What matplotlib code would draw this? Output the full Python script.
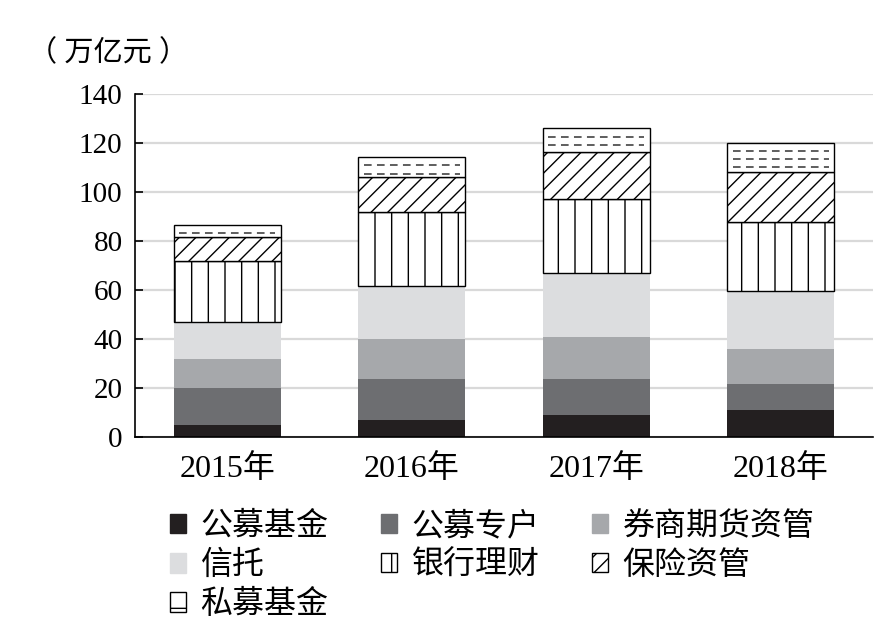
import matplotlib
matplotlib.use("Agg")
import matplotlib.pyplot as plt
import numpy as np
from matplotlib.patches import Patch

plt.rcParams["font.family"] = ["Liberation Serif", "Noto Sans CJK SC"]
plt.rcParams["hatch.linewidth"] = 1.0

years = ["2015年", "2016年", "2017年", "2018年"]
series_names = ["公募基金", "公募专户", "券商期货资管", "信托", "银行理财", "保险资管", "私募基金"]

# segment sizes, 万亿元
gongmu_jijin = [4.8, 6.8, 8.8, 10.9]
gongmu_zhuanhu = [15.2, 16.7, 14.7, 10.6]
quanshang_qihuo = [11.8, 16.5, 17.2, 14.3]
xintuo = [15.0, 21.8, 26.2, 23.9]
yinhang_licai = [25.2, 30.2, 30.1, 28.2]
baoxian_ziguan = [9.4, 13.9, 19.1, 20.4]
simu_jijin = [5.0, 8.2, 9.8, 11.8]

y_ticks = [0, 20, 40, 60, 80, 100, 120, 140]

series = [gongmu_jijin, gongmu_zhuanhu, quanshang_qihuo, xintuo,
          yinhang_licai, baoxian_ziguan, simu_jijin]
styles = [
    dict(color="#231f20"),
    dict(color="#6d6e71"),
    dict(color="#a6a8ab"),
    dict(color="#dcdddf"),
    dict(facecolor="white", edgecolor="black", hatch="|", linewidth=1.0),
    dict(facecolor="white", edgecolor="black", hatch="//", linewidth=1.0),
    dict(facecolor="white", edgecolor="black", linewidth=1.0),
]

fig = plt.figure(figsize=(8.87, 6.26), dpi=100)
ax = fig.add_axes([0.1522, 0.302, 0.832, 0.548])

x = np.arange(len(years))
width = 0.58
bottom = np.zeros(len(years))
for vals, st in zip(series, styles):
    ax.bar(x, vals, width, bottom=bottom, **st)
    bottom = bottom + np.array(vals)

# dashed fill for the top (私募基金) segment
base = bottom - np.array(simu_jijin)
for xi, b, h in zip(x, base, simu_jijin):
    k = 1
    while 3.3 * k < h - 0.8:
        ax.plot([xi - width / 2 + 0.03, xi + width / 2 - 0.03], [b + h - 3.3 * k] * 2,
                color="#333333", lw=1.1, dashes=(5, 3.5))
        k += 1

ax.set_xlim(-0.5, 3.5)
ax.set_ylim(0, 140)
ax.set_yticks(y_ticks)
ax.set_xticks(x)
ax.set_xticklabels(years)
ax.yaxis.grid(True, color="#d9d9d9", lw=1.6)
ax.set_axisbelow(True)
for s in ["top", "right"]:
    ax.spines[s].set_visible(False)
ax.spines["left"].set_linewidth(1.2)
ax.spines["bottom"].set_linewidth(1.2)
ax.tick_params(axis="y", direction="in", length=6, width=1.2, pad=9, labelsize=21)
ax.tick_params(axis="x", length=0, pad=12, labelsize=23)

fig.text(0.032, 0.915, "（ 万亿元 ）", fontsize=21, va="center", ha="left")

handles = [Patch(**st) for st in styles]
handles[6] = Patch(facecolor="white", edgecolor="black", hatch="-", linewidth=1.0)
order = [0, 3, 6, 1, 4, 2, 5]
ax.legend([handles[i] for i in order], [series_names[i] for i in order],
          ncol=3, loc="upper left", bbox_to_anchor=(0.192, 0.182),
          bbox_transform=fig.transFigure, frameon=False, fontsize=23,
          handlelength=0.5, handleheight=0.55, handletextpad=0.45,
          columnspacing=1.65, labelspacing=0.28, borderpad=0, borderaxespad=0)

fig.savefig("out.png", dpi=100)
